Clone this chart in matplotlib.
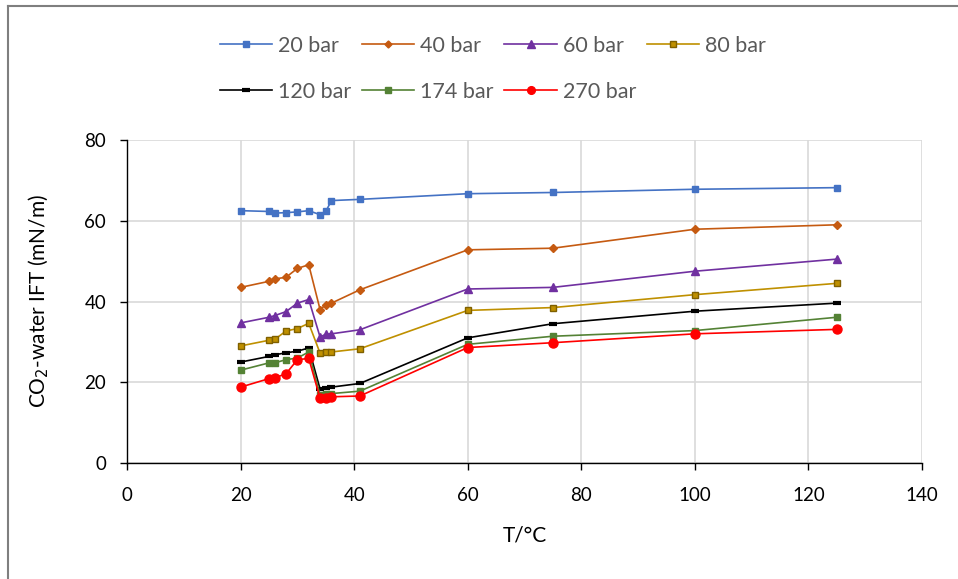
import numpy as np
import matplotlib
matplotlib.use("Agg")
import matplotlib.pyplot as plt
from matplotlib.lines import Line2D

plt.rcParams['font.family'] = ['Lato', 'DejaVu Sans']

# temperatures, deg C
temp = [20, 25, 26, 28, 30, 32, 34, 35, 36, 41, 60, 75, 100, 125]

# IFT values (mN/m)
ift_20 = [62.5, 62.3, 61.9, 62.0, 62.2, 62.5, 61.5, 62.3, 65.0, 65.3, 66.7, 67.0, 67.8, 68.2]
ift_40 = [43.5, 45.0, 45.6, 46.0, 48.2, 49.1, 38.0, 39.2, 39.6, 42.9, 52.8, 53.2, 57.9, 59.0]
ift_60 = [34.7, 36.1, 36.5, 37.5, 39.6, 40.5, 31.2, 31.9, 32.0, 33.0, 43.1, 43.5, 47.5, 50.5]
ift_80 = [29.0, 30.4, 30.6, 32.7, 33.3, 34.6, 27.2, 27.4, 27.5, 28.3, 37.8, 38.5, 41.7, 44.5]
ift_120 = [25.0, 26.4, 26.8, 27.3, 27.7, 28.5, 18.3, 18.6, 18.8, 19.7, 31.0, 34.5, 37.6, 39.6]
ift_174 = [23.0, 24.8, 24.8, 25.6, 26.0, 27.5, 16.8, 17.0, 17.2, 17.8, 29.4, 31.4, 32.8, 36.1]
ift_270 = [18.8, 20.9, 21.1, 22.1, 25.6, 25.9, 16.0, 16.2, 16.4, 16.6, 28.6, 29.8, 32.0, 33.1]

labels = ['20 bar', '40 bar', '60 bar', '80 bar', '120 bar', '174 bar', '270 bar']
series = [ift_20, ift_40, ift_60, ift_80, ift_120, ift_174, ift_270]

styles = [
    dict(color='#4472C4', marker='s', ms=5, mfc='#4472C4', mec='#4472C4'),
    dict(color='#C55A11', marker='D', ms=4.2, mfc='#C55A11', mec='#C55A11'),
    dict(color='#7030A0', marker='^', ms=6, mfc='#7030A0', mec='#7030A0'),
    dict(color='#BF9000', marker='s', ms=5, mfc='#BF9000', mec='#7F6000'),
    dict(color='#000000', marker='_', ms=6, mew=3, mfc='#000000', mec='#000000'),
    dict(color='#548235', marker='s', ms=5, mfc='#548235', mec='#548235'),
    dict(color='#FF0000', marker='o', ms=6.5, mfc='#FF0000', mec='#FF0000'),
]

fig = plt.figure(figsize=(9.58, 5.79), dpi=100)
ax = fig.add_axes([0.1326, 0.2003, 0.8298, 0.5579])

handles = []
for y, lab, st in zip(series, labels, styles):
    h, = ax.plot(temp, y, lw=1.2, label=lab, **st)
    handles.append(h)

ax.set_xlim(0, 140)
ax.set_ylim(0, 80)
ax.set_xticks(np.arange(0, 141, 20))
ax.set_yticks(np.arange(0, 81, 20))
ax.grid(True, color='#D9D9D9', lw=1.2)
ax.set_axisbelow(True)
for s in ['top', 'right']:
    ax.spines[s].set_visible(False)
for s in ['left', 'bottom']:
    ax.spines[s].set_color('black')
    ax.spines[s].set_linewidth(1.0)
    ax.spines[s].set_zorder(1)
ax.tick_params(axis='both', direction='out', length=5, width=1, labelsize=13.5, colors='black')
ax.tick_params(axis='x', pad=12)
ax.tick_params(axis='y', pad=10)

ax.set_xlabel('T/°C', fontsize=15, labelpad=16)
ax.set_ylabel('CO$_2$-water IFT (mN/m)', fontsize=15, labelpad=24)

# row-major order for a 4-column legend
order = [0, 4, 1, 5, 2, 6, 3]
leg = fig.legend([handles[i] for i in order], [labels[i] for i in order],
                 ncol=4, loc='upper left', bbox_to_anchor=(0.2296, 0.938),
                 frameon=False, fontsize=15.5, handlelength=2.42, handletextpad=0.28,
                 columnspacing=0.5, labelspacing=1.2, borderpad=0, borderaxespad=0,
                 markerscale=0.85)
for t in leg.get_texts():
    t.set_color('#595959')

# partial frame like the source image
fig.add_artist(Line2D([0.0085, 0.0085], [0.0, 0.99], color='#7F7F7F', lw=1.5))
fig.add_artist(Line2D([0.0085, 1.0], [0.99, 0.99], color='#7F7F7F', lw=1.5))

fig.savefig('out.png', dpi=100)
